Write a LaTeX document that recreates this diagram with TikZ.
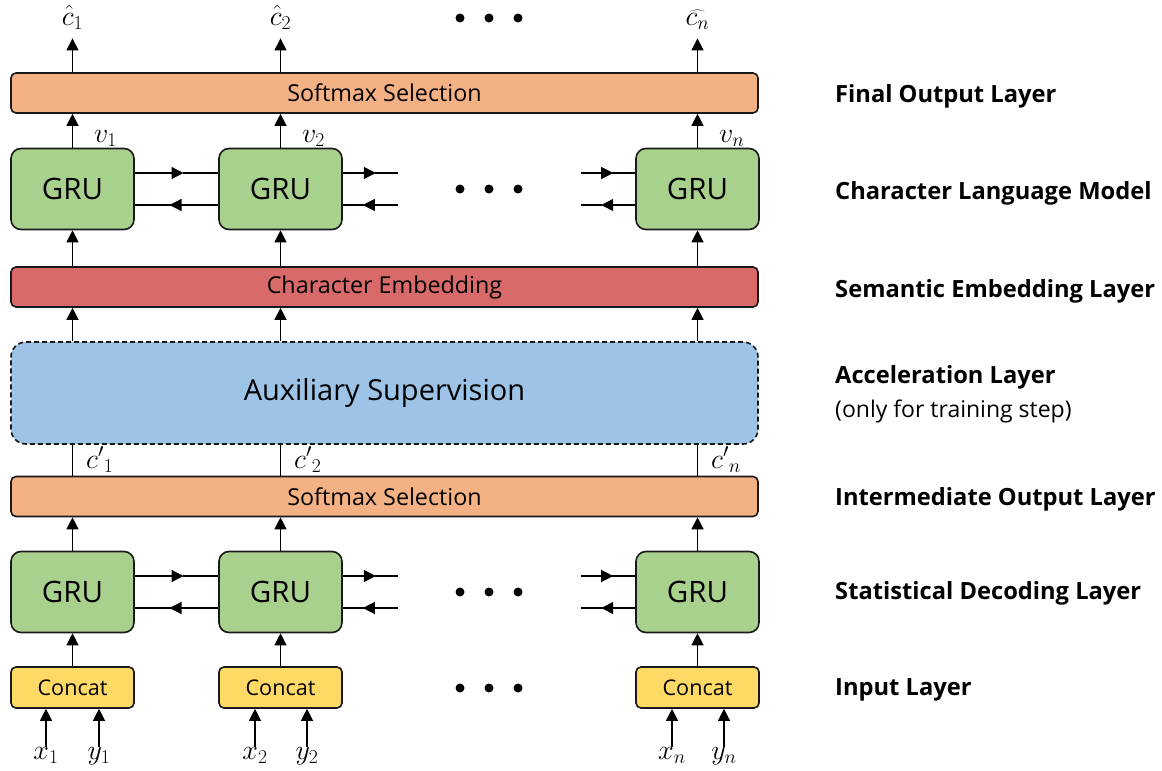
\RequirePackage{fix-cm}
\documentclass[tikz,border=0pt]{standalone}
\usepackage{fontspec}
\setmainfont{Open Sans}
\usetikzlibrary{positioning,arrows.meta,calc}

\definecolor{softOrange}{HTML}{F4B183}
\definecolor{gruGreen}{HTML}{A9D18E}
\definecolor{embRed}{HTML}{D96A6A}
\definecolor{auxBlue}{HTML}{9DC3E6}
\definecolor{catYellow}{HTML}{FFD966}

\begin{document}
\begin{tikzpicture}[
    x=1pt, y=-1pt,
    bar/.style   ={draw=black!90,line width=1.6pt,rounded corners=5pt,inner sep=0pt,
                   minimum width=747pt,minimum height=40pt,font=\fontsize{23.3}{23.3}\selectfont},
    gru/.style   ={draw=black!90,line width=1.6pt,rounded corners=10pt,fill=gruGreen,inner sep=0pt,
                   minimum width=123pt,minimum height=81pt,font=\fontsize{29.5}{29.5}\selectfont},
    cat/.style   ={draw=black!90,line width=1.6pt,rounded corners=5pt,fill=catYellow,inner sep=0pt,
                   minimum width=123pt,minimum height=41pt,font=\fontsize{21.6}{21.6}\selectfont},
    lbl/.style   ={anchor=west,inner sep=0pt,font=\bfseries\fontsize{23.7}{23.7}\selectfont},
    var/.style   ={inner sep=0pt,anchor=base,font=\fontsize{28}{28}\selectfont},
    arrow/.style ={-{Triangle[length=12pt,width=12pt]},line width=1.2pt},
    link/.style  ={line width=1.2pt},
]

% ---------- Canvas ----------
\useasboundingbox (0,0) rectangle (1162,771);

% ---------- Column positions (px) ----------
\def\colA{72.5}
\def\colB{280.5}
\def\colN{697.5}
\def\off{16}    % half distance of the two recurrent arrows

% ---------- Layers ----------
\node[bar, fill=softOrange] (FOUT) at (384.5,93) {Softmax Selection};

\node[gru] (G1) at (\colA,189) {GRU};
\node[gru] (G2) at (\colB,189) {GRU};
\node[gru] (Gn) at (\colN,189) {GRU};

\node[bar, fill=embRed] (EMB) at (384.5,287) {Character Embedding};

\node[bar, fill=auxBlue, dash pattern=on 5pt off 3pt, minimum height=102pt, rounded corners=15pt,
      font=\fontsize{29}{29}\selectfont] (AUX) at (384.5,393) {Auxiliary Supervision};

\node[bar, fill=softOrange] (IOUT) at (384.5,496.5) {Softmax Selection};

\node[gru] (D1) at (\colA,592) {GRU};
\node[gru] (D2) at (\colB,592) {GRU};
\node[gru] (Dn) at (\colN,592) {GRU};

\node[cat] (C1) at (\colA,687.5) {Concat};
\node[cat] (C2) at (\colB,687.5) {Concat};
\node[cat] (Cn) at (\colN,687.5) {Concat};

% ---------- Inputs ----------
\node[var] (x1) at (46,759)  {$x_1$};
\node[var] (y1) at (99,759)  {$y_1$};
\node[var] (x2) at (255,759) {$x_2$};
\node[var] (y2) at (307,759) {$y_2$};
\node[var] (xn) at (672,759) {$x_n$};
\node[var] (yn) at (724,759) {$y_n$};

\draw[arrow] (x1) -- (x1 |- C1.south);
\draw[arrow] (y1) -- (y1 |- C1.south);
\draw[arrow] (x2) -- (x2 |- C2.south);
\draw[arrow] (y2) -- (y2 |- C2.south);
\draw[arrow] (xn) -- (xn |- Cn.south);
\draw[arrow] (yn) -- (yn |- Cn.south);

% ---------- Concat -> decoding GRU -> intermediate output ----------
\draw[arrow] (C1) -- (D1);
\draw[arrow] (C2) -- (D2);
\draw[arrow] (Cn) -- (Dn);

\draw[arrow] (D1) -- (D1 |- IOUT.south);
\draw[arrow] (D2) -- (D2 |- IOUT.south);
\draw[arrow] (Dn) -- (Dn |- IOUT.south);

% ---------- Intermediate output -> auxiliary supervision ----------
\draw[link] (IOUT.north -| D1) -- (AUX.south -| D1);
\draw[link] (IOUT.north -| D2) -- (AUX.south -| D2);
\draw[link] (IOUT.north -| Dn) -- (AUX.south -| Dn);

\node[var, anchor=base west] (cp1) at (86,468)  {${c'}_1$};
\node[var, anchor=base west] (cp2) at (294,468) {${c'}_2$};
\node[var, anchor=base west] (cpn) at (711,468) {${c'}_n$};

% ---------- Aux -> embedding -> language model -> final output ----------
\draw[arrow] (AUX.north -| G1) -- (EMB.south -| G1);
\draw[arrow] (AUX.north -| G2) -- (EMB.south -| G2);
\draw[arrow] (AUX.north -| Gn) -- (EMB.south -| Gn);

\draw[arrow] (EMB.north -| G1) -- (G1);
\draw[arrow] (EMB.north -| G2) -- (G2);
\draw[arrow] (EMB.north -| Gn) -- (Gn);

\draw[arrow] (G1) -- (G1 |- FOUT.south);
\draw[arrow] (G2) -- (G2 |- FOUT.south);
\draw[arrow] (Gn) -- (Gn |- FOUT.south);

\node[var, anchor=base west] (v1) at (94,142)  {$v_1$};
\node[var, anchor=base west] (v2) at (302,142) {$v_2$};
\node[var, anchor=base west] (vn) at (719,142) {$v_n$};

% ---------- Outputs ----------
\node[var] (h1) at (\colA,25) {$\hat{c}_1$};
\node[var] (h2) at (\colB,25) {$\hat{c}_2$};
\node[var] (hn) at (\colN,25) {$\widehat{c_n}$};

\draw[arrow, shorten >=9pt] (FOUT.north -| h1) -- (h1);
\draw[arrow, shorten >=9pt] (FOUT.north -| h2) -- (h2);
\draw[arrow, shorten >=9pt] (FOUT.north -| hn) -- (hn);

% ---------- Recurrent connections: language model ----------
\coordinate (g12) at ($(G1.east)!.5!(G2.west)$);
\coordinate (g2e) at ([xshift=55pt]G2.east);
\coordinate (gnw) at ([xshift=-54pt]Gn.west);

\draw[arrow] ([yshift=\off pt]G1.east) -- ([xshift=7pt,yshift=\off pt]g12);
\draw[link]  ([xshift=6pt,yshift=\off pt]g12) -- ([yshift=\off pt]G2.west);
\draw[arrow] ([yshift=-\off pt]G2.west) -- ([xshift=-7pt,yshift=-\off pt]g12);
\draw[link]  ([xshift=-6pt,yshift=-\off pt]g12) -- ([yshift=-\off pt]G1.east);

\draw[arrow] ([yshift=\off pt]G2.east) -- ([xshift=-22pt,yshift=\off pt]g2e);
\draw[link]  ([xshift=-23pt,yshift=\off pt]g2e) -- ([yshift=\off pt]g2e);
\draw[arrow] ([yshift=-\off pt]g2e) -- ([xshift=-35pt,yshift=-\off pt]g2e);
\draw[link]  ([xshift=-34pt,yshift=-\off pt]g2e) -- ([yshift=-\off pt]G2.east);

\draw[arrow] ([yshift=\off pt]gnw) -- ([xshift=32pt,yshift=\off pt]gnw);
\draw[link]  ([xshift=31pt,yshift=\off pt]gnw) -- ([yshift=\off pt]Gn.west);
\draw[arrow] ([yshift=-\off pt]Gn.west) -- ([xshift=20pt,yshift=-\off pt]gnw);
\draw[link]  ([xshift=21pt,yshift=-\off pt]gnw) -- ([yshift=-\off pt]gnw);

% ---------- Recurrent connections: decoding layer ----------
\coordinate (d12) at ($(D1.east)!.5!(D2.west)$);
\coordinate (d2e) at ([xshift=55pt]D2.east);
\coordinate (dnw) at ([xshift=-54pt]Dn.west);

\draw[arrow] ([yshift=\off pt]D1.east) -- ([xshift=7pt,yshift=\off pt]d12);
\draw[link]  ([xshift=6pt,yshift=\off pt]d12) -- ([yshift=\off pt]D2.west);
\draw[arrow] ([yshift=-\off pt]D2.west) -- ([xshift=-7pt,yshift=-\off pt]d12);
\draw[link]  ([xshift=-6pt,yshift=-\off pt]d12) -- ([yshift=-\off pt]D1.east);

\draw[arrow] ([yshift=\off pt]D2.east) -- ([xshift=-22pt,yshift=\off pt]d2e);
\draw[link]  ([xshift=-23pt,yshift=\off pt]d2e) -- ([yshift=\off pt]d2e);
\draw[arrow] ([yshift=-\off pt]d2e) -- ([xshift=-35pt,yshift=-\off pt]d2e);
\draw[link]  ([xshift=-34pt,yshift=-\off pt]d2e) -- ([yshift=-\off pt]D2.east);

\draw[arrow] ([yshift=\off pt]dnw) -- ([xshift=32pt,yshift=\off pt]dnw);
\draw[link]  ([xshift=31pt,yshift=\off pt]dnw) -- ([yshift=\off pt]Dn.west);
\draw[arrow] ([yshift=-\off pt]Dn.west) -- ([xshift=20pt,yshift=-\off pt]dnw);
\draw[link]  ([xshift=21pt,yshift=-\off pt]dnw) -- ([yshift=-\off pt]dnw);

% ---------- Ellipses ----------
\fill (460,18) circle (4.5) (489,18) circle (4.5) (518,18) circle (4.5);
\fill (460,189) circle (4.5) (489,189) circle (4.5) (518,189) circle (4.5);
\fill (460,592) circle (4.5) (489,592) circle (4.5) (518,592) circle (4.5);
\fill (460,688) circle (4.5) (489,688) circle (4.5) (518,688) circle (4.5);

% ---------- Layer names ----------
\node[lbl] (L1) at (835,96)  {Final Output Layer};
\node[lbl] (L2) at (835,193) {Character Language Model};
\node[lbl] (L3) at (835,291) {Semantic Embedding Layer};
\node[lbl] (L4) at (835,377) {Acceleration Layer};
\node[lbl, font=\fontsize{23}{23}\selectfont] (L4b) at (835,411) {(only for training step)};
\node[lbl] (L5) at (835,499) {Intermediate Output Layer};
\node[lbl] (L6) at (835,593) {Statistical Decoding Layer};
\node[lbl] (L7) at (835,690) {Input Layer};

\end{tikzpicture}
\end{document}
